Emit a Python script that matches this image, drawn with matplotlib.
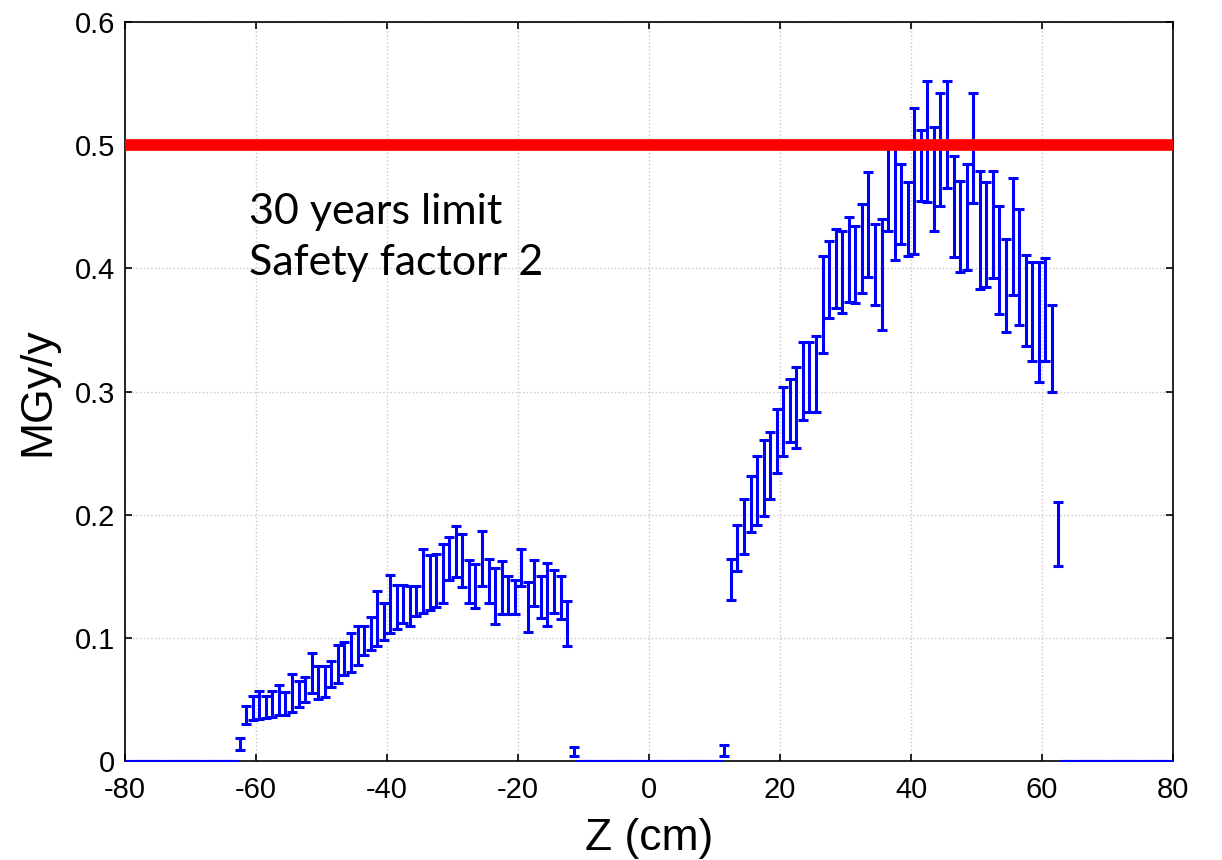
"""Dose rate along Z with a 30-year limit line."""

import matplotlib
matplotlib.use("Agg")
import matplotlib.pyplot as plt
import numpy as np

plt.rcParams["font.family"] = ["Liberation Sans", "DejaVu Sans"]
plt.rcParams["axes.unicode_minus"] = False

# 1 cm bins over the full Z range
bin_centres = np.arange(-79.5, 80.0, 1.0)

# left bump: bins -62.5 .. -11.5 (lower / upper end of each error bar)
left_start = -62.5
left_low = [0.009, 0.030, 0.033, 0.034, 0.035, 0.036, 0.037, 0.037, 0.040, 0.044,
            0.048, 0.055, 0.050, 0.052, 0.060, 0.063, 0.070, 0.072, 0.078, 0.086,
            0.090, 0.093, 0.098, 0.104, 0.107, 0.112, 0.110, 0.118, 0.120, 0.123,
            0.125, 0.128, 0.147, 0.149, 0.141, 0.128, 0.124, 0.142, 0.128, 0.111,
            0.119, 0.119, 0.119, 0.142, 0.105, 0.126, 0.116, 0.110, 0.120, 0.115,
            0.093, 0.004]
left_high = [0.019, 0.045, 0.053, 0.057, 0.053, 0.057, 0.062, 0.056, 0.071, 0.065,
             0.068, 0.088, 0.077, 0.077, 0.081, 0.094, 0.097, 0.104, 0.110, 0.110,
             0.117, 0.138, 0.128, 0.151, 0.143, 0.143, 0.142, 0.142, 0.172, 0.167,
             0.168, 0.176, 0.182, 0.191, 0.184, 0.163, 0.160, 0.187, 0.164, 0.157,
             0.162, 0.150, 0.147, 0.172, 0.145, 0.163, 0.150, 0.161, 0.155, 0.150,
             0.130, 0.011]

# right bump: bins 11.5 .. 62.5
right_start = 11.5
right_low = [0.004, 0.131, 0.154, 0.168, 0.186, 0.192, 0.199, 0.213, 0.234, 0.248,
             0.259, 0.254, 0.277, 0.283, 0.283, 0.331, 0.360, 0.368, 0.364, 0.373,
             0.372, 0.380, 0.393, 0.370, 0.350, 0.430, 0.407, 0.420, 0.410, 0.412,
             0.455, 0.454, 0.430, 0.451, 0.465, 0.409, 0.397, 0.399, 0.453, 0.383,
             0.385, 0.392, 0.363, 0.348, 0.378, 0.354, 0.337, 0.325, 0.308, 0.325,
             0.300, 0.158]
right_high = [0.013, 0.164, 0.192, 0.213, 0.231, 0.248, 0.261, 0.267, 0.286, 0.304,
              0.310, 0.320, 0.340, 0.340, 0.345, 0.410, 0.422, 0.432, 0.430, 0.442,
              0.434, 0.452, 0.478, 0.436, 0.440, 0.503, 0.503, 0.485, 0.470, 0.530,
              0.512, 0.552, 0.515, 0.542, 0.552, 0.491, 0.471, 0.485, 0.542, 0.479,
              0.470, 0.479, 0.451, 0.424, 0.473, 0.448, 0.411, 0.405, 0.405, 0.408,
              0.370, 0.210]

limit_value = 0.5
x_ticks = [-80, -60, -40, -20, 0, 20, 40, 60, 80]
y_ticks = [0, 0.1, 0.2, 0.3, 0.4, 0.5, 0.6]
y_tick_labels = ["0", "0.1", "0.2", "0.3", "0.4", "0.5", "0.6"]

# assemble full arrays (empty bins stay at zero)
lo = np.zeros_like(bin_centres)
hi = np.zeros_like(bin_centres)
for start, low, high in [(left_start, left_low, left_high), (right_start, right_low, right_high)]:
    i0 = int(np.argmin(np.abs(bin_centres - start)))
    lo[i0:i0 + len(low)] = low
    hi[i0:i0 + len(high)] = high
mid = (lo + hi) / 2
err = np.vstack([mid - lo, hi - mid])

fig = plt.figure(figsize=(12.22, 8.6), dpi=100)
ax = fig.add_axes([0.1023, 0.1151, 0.8576, 0.8593])

ax.errorbar(bin_centres, mid, yerr=err, fmt="none", ecolor="#0000ff",
            elinewidth=2.2, capsize=3.6, capthick=2.2, zorder=3)
ax.plot([-80, 80], [limit_value, limit_value], color="#ff0000", linewidth=8.4,
        solid_capstyle="butt", zorder=4)

ax.text(-61, 0.461, "30 years limit\nSafety factorr 2", family=["Lato", "DejaVu Sans"],
        fontsize=31, va="top", ha="left", linespacing=1.42, zorder=5)

ax.set_xlim(-80, 80)
ax.set_ylim(0, 0.6)
ax.set_xticks(x_ticks)
ax.set_xticklabels([str(t) for t in x_ticks])
ax.set_yticks(y_ticks)
ax.set_yticklabels(y_tick_labels)
ax.tick_params(direction="in", length=5, width=1.2, labelsize=21,
               top=True, right=True)
ax.tick_params(axis="x", pad=11)
ax.tick_params(axis="y", pad=7)
ax.grid(True, linestyle=":", color="#c8c8c8", linewidth=1.0)
ax.set_axisbelow(True)
for sp in ax.spines.values():
    sp.set_linewidth(1.2)

ax.set_xlabel("Z (cm)", fontsize=32, labelpad=10)
ax.set_ylabel("MGy/y", fontsize=32, labelpad=12)

fig.savefig("out.png", dpi=100)
